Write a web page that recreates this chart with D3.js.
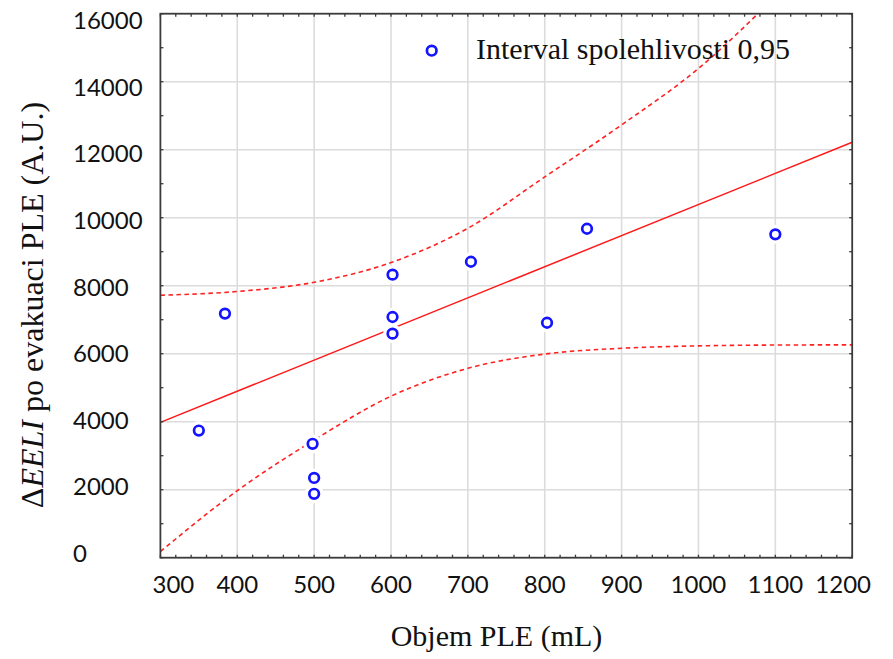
<!DOCTYPE html>
<html>
<head>
<meta charset="utf-8">
<script src="https://cdn.jsdelivr.net/npm/d3@7/dist/d3.min.js"></script>
<style>
  html, body { margin: 0; padding: 0; background: #fff; }
  svg { display: block; }
</style>
</head>
<body>
<svg id="chart" width="893" height="659"></svg>
<script>
// ---- data ----
const volumeML = [350, 384, 498, 500, 500, 602, 602, 602, 704, 803, 855, 1100];
const deltaEELI = [3740, 7180, 3350, 2345, 1880, 8325, 7080, 6590, 8705, 6910, 9675, 9510];

const fitX = [300, 1200];
const fitY = [3980, 12220];

const bandX = [300, 400, 500, 600, 700, 800, 900, 1000, 1100, 1200];
const upperY = [7720, 7830, 8100, 8680, 9690, 11200, 12730, 14390, 16500, 18800];
const lowerY = [180, 1970, 3460, 4750, 5570, 5990, 6160, 6230, 6255, 6260];

const xTicks = [300, 400, 500, 600, 700, 800, 900, 1000, 1100, 1200];
const yTicks = [0, 2000, 4000, 6000, 8000, 10000, 12000, 14000, 16000];

const xTitle = "Objem PLE (mL)";
const legendLabel = "Interval spolehlivosti 0,95";

// ---- layout ----
const svg = d3.select("#chart");
const L = 160.4, R = 852.2, T = 13.7, B = 557.7;
const x = d3.scaleLinear().domain([300, 1200]).range([L, R]);
const y = d3.scaleLinear().domain([0, 16000]).range([B, T]);
// tick labels in the reference are spread a little tighter than the ticks
const yLab = d3.scaleLinear().domain([0, 16000]).range([562, 29]);

svg.append("rect").attr("width", 893).attr("height", 659).attr("fill", "#fff");

svg.append("defs").append("clipPath").attr("id", "plotclip")
  .append("rect").attr("x", L).attr("y", T).attr("width", R - L).attr("height", B - T);

// grid
const grid = svg.append("g").attr("stroke", "#dcdcdc").attr("stroke-width", 1.6);
grid.selectAll("line.v").data(xTicks.slice(1, -1)).join("line")
  .attr("x1", d => x(d)).attr("x2", d => x(d)).attr("y1", T).attr("y2", B);
grid.selectAll("line.h").data(yTicks.slice(1, -1)).join("line")
  .attr("x1", L).attr("x2", R).attr("y1", d => y(d)).attr("y2", d => y(d));

// lines
const plot = svg.append("g").attr("clip-path", "url(#plotclip)");
const lineGen = d3.line().x(d => x(d[0])).y(d => y(d[1])).curve(d3.curveMonotoneX);
plot.append("path").datum(fitX.map((v, i) => [v, fitY[i]]))
  .attr("d", lineGen).attr("fill", "none").attr("stroke", "#ff1a1a").attr("stroke-width", 1.5);
[upperY, lowerY].forEach(arr => {
  plot.append("path").datum(bandX.map((v, i) => [v, arr[i]]))
    .attr("d", lineGen).attr("fill", "none").attr("stroke", "#ff2222")
    .attr("stroke-width", 1.6).attr("stroke-dasharray", "4.5,3.5");
});

// markers
const pts = volumeML.map((v, i) => [v, deltaEELI[i]]);
const mk = svg.append("g");
mk.selectAll("circle.halo").data(pts).join("circle")
  .attr("cx", d => x(d[0])).attr("cy", d => y(d[1])).attr("r", 9.5).attr("fill", "#fff");
mk.selectAll("circle.dot").data(pts).join("circle")
  .attr("cx", d => x(d[0])).attr("cy", d => y(d[1])).attr("r", 4.8)
  .attr("fill", "#fff").attr("stroke", "#1414ff").attr("stroke-width", 2.7);

// frame
svg.append("rect").attr("x", L).attr("y", T).attr("width", R - L).attr("height", B - T)
  .attr("fill", "none").attr("stroke", "#3a3a3a").attr("stroke-width", 1.8);

// ticks (inside)
const tk = svg.append("g").attr("stroke", "#3a3a3a").attr("stroke-width", 1.3);
const xMinor = d3.range(300, 1201, 20);
const yMinor = d3.range(0, 16001, 1000);
xMinor.forEach(v => {
  tk.append("line").attr("x1", x(v)).attr("x2", x(v)).attr("y1", B).attr("y2", B - 3);
  tk.append("line").attr("x1", x(v)).attr("x2", x(v)).attr("y1", T).attr("y2", T + 3);
});
yMinor.forEach(v => {
  tk.append("line").attr("x1", L).attr("x2", L + 3).attr("y1", y(v)).attr("y2", y(v));
  tk.append("line").attr("x1", R).attr("x2", R - 3).attr("y1", y(v)).attr("y2", y(v));
});

// tick labels
const tickFont = "Lato, 'Open Sans', sans-serif";
svg.append("g").selectAll("text").data(yTicks).join("text")
  .attr("x", 73).attr("y", d => yLab(d))
  .attr("font-family", tickFont).attr("font-size", 24).attr("fill", "#111")
  .text(d => d);
const xLabelShift = v => v === 300 ? 13 : (v === 1200 ? -9 : 0);
svg.append("g").selectAll("text").data(xTicks).join("text")
  .attr("x", d => x(d) + xLabelShift(d)).attr("y", 593)
  .attr("text-anchor", "middle")
  .attr("font-family", tickFont).attr("font-size", 24).attr("fill", "#111")
  .text(d => d);

// axis titles
const serif = "'Liberation Serif', 'Times New Roman', serif";
svg.append("text").attr("x", 496.5).attr("y", 646).attr("text-anchor", "middle")
  .attr("font-family", serif).attr("font-size", 30).attr("fill", "#111").text(xTitle);

const yt = svg.append("text")
  .attr("transform", "translate(43,305) rotate(-90)")
  .attr("text-anchor", "middle")
  .attr("font-family", serif).attr("font-size", 32).attr("fill", "#111");
yt.append("tspan").text("Δ");
yt.append("tspan").attr("font-style", "italic").text("EELI");
yt.append("tspan").text(" po evakuaci PLE (A.U.)");

// legend
svg.append("circle").attr("cx", 431.7).attr("cy", 50.7).attr("r", 4.8)
  .attr("fill", "#fff").attr("stroke", "#1414ff").attr("stroke-width", 2.7);
svg.append("text").attr("x", 476).attr("y", 59.3)
  .attr("font-family", serif).attr("font-size", 30).attr("fill", "#111").text(legendLabel);
</script>
</body>
</html>
